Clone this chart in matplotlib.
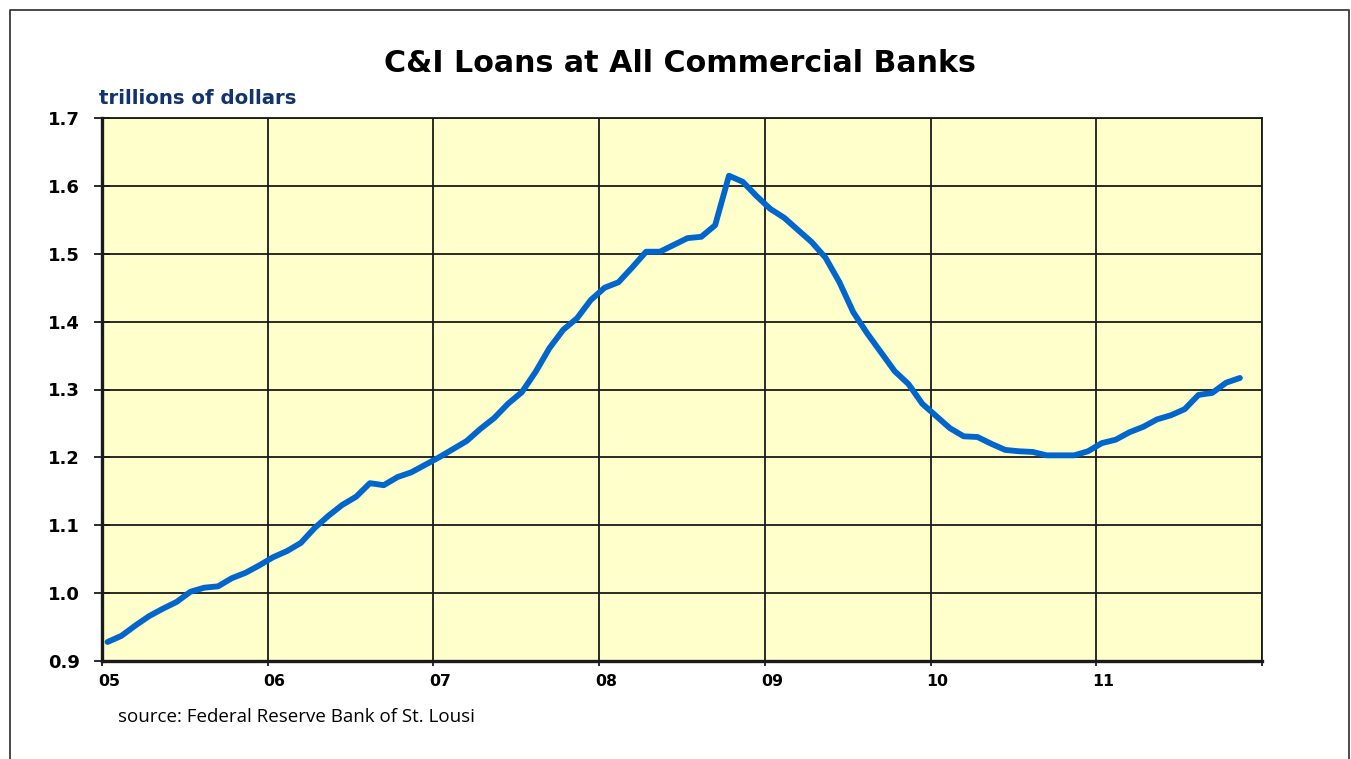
import matplotlib
matplotlib.use("Agg")
import matplotlib.pyplot as plt
import matplotlib.transforms as mtransforms
from matplotlib.lines import Line2D
import numpy as np

# Monthly C&I loans, Jan 2005 - Nov 2011 (trillions of dollars)
loans = [
    0.928, 0.937, 0.952, 0.966, 0.977, 0.987, 1.002, 1.008, 1.010, 1.022, 1.030, 1.041,
    1.053, 1.062, 1.074, 1.096, 1.114, 1.130, 1.142, 1.162, 1.159, 1.171, 1.178, 1.189,
    1.200, 1.212, 1.224, 1.242, 1.258, 1.279, 1.296, 1.326, 1.361, 1.388, 1.405, 1.432,
    1.450, 1.458, 1.480, 1.503, 1.503, 1.513, 1.523, 1.525, 1.542, 1.615, 1.606, 1.585,
    1.566, 1.553, 1.535, 1.517, 1.494, 1.458, 1.414, 1.383, 1.355, 1.327, 1.308, 1.279,
    1.261, 1.243, 1.231, 1.230, 1.220, 1.211, 1.209, 1.208, 1.203, 1.203, 1.203, 1.209,
    1.221, 1.226, 1.237, 1.245, 1.256, 1.262, 1.271, 1.292, 1.295, 1.310, 1.317,
]
start_year = 2005
year_ticks = [2005, 2006, 2007, 2008, 2009, 2010, 2011, 2012]
year_labels = ["05", "06", "07", "08", "09", "10", "11", ""]
y_ticks = [0.9, 1.0, 1.1, 1.2, 1.3, 1.4, 1.5, 1.6, 1.7]
y_labels = ["0.9", "1.0", "1.1", "1.2", "1.3", "1.4", "1.5", "1.6", "1.7"]

title = "C&I Loans at All Commercial Banks"
unit_label = "trillions of dollars"
source = "source: Federal Reserve Bank of St. Lousi"

x = start_year + (np.arange(len(loans)) + 0.4) / 12.0

W, H = 1351, 759
fig = plt.figure(figsize=(W / 100, H / 100), dpi=100)
fig.patch.set_facecolor("white")

# outer frame
fc = "#3a3a3a"
fig.add_artist(Line2D([10 / W, 10 / W, 1349 / W, 1349 / W],
                      [0, 1 - 10 / H, 1 - 10 / H, 0],
                      transform=fig.transFigure, color=fc, lw=1.3))

ax = fig.add_axes([102 / W, (H - 661) / H, (1262 - 102) / W, (661 - 118) / H])
ax.set_facecolor("#FFFFCC")
ax.plot(x, loans, color="#0066CC", lw=4.2, solid_joinstyle="round",
        solid_capstyle="round", zorder=3)

ax.set_xlim(2005, 2012)
ax.set_ylim(0.9, 1.7)
ax.set_xticks(year_ticks)
ax.set_xticklabels(year_labels)
ax.set_yticks(y_ticks)
ax.set_yticklabels(y_labels)
ax.grid(True, color="#1a1a1a", lw=1.3, zorder=1)
ax.set_axisbelow(True)

for s in ["top", "right"]:
    ax.spines[s].set_linewidth(1.3)
    ax.spines[s].set_color("#1a1a1a")
for s in ["left", "bottom"]:
    ax.spines[s].set_linewidth(2.4)
    ax.spines[s].set_color("#1a1a1a")

ax.tick_params(axis="x", direction="out", length=3.5, width=1.3, pad=5.5,
               labelsize=11.3, colors="#1a1a1a")
ax.tick_params(axis="y", direction="inout", length=11, width=1.3, pad=10.5,
               labelsize=13, colors="#1a1a1a")
for lbl in ax.get_xticklabels() + ax.get_yticklabels():
    lbl.set_fontweight("bold")
    lbl.set_fontfamily("DejaVu Sans")
    lbl.set_color("black")

offset = mtransforms.ScaledTranslation(-4 / 100, 0, fig.dpi_scale_trans)
for lbl in ax.get_xticklabels():
    lbl.set_horizontalalignment("left")
    lbl.set_transform(lbl.get_transform() + offset)

fig.text(680 / W, 1 - 63 / H, title, ha="center", va="center",
         fontsize=21.7, fontweight="bold", family="DejaVu Sans", color="black")
fig.text(99 / W, 1 - 98 / H, unit_label, ha="left", va="center",
         fontsize=14.2, fontweight="bold", family="DejaVu Sans", color="#12336B")
fig.text(118 / W, 1 - 717 / H, source, ha="left", va="center",
         fontsize=13.5, family="Open Sans", color="black")

fig.savefig("out.png", dpi=100, facecolor="white")
